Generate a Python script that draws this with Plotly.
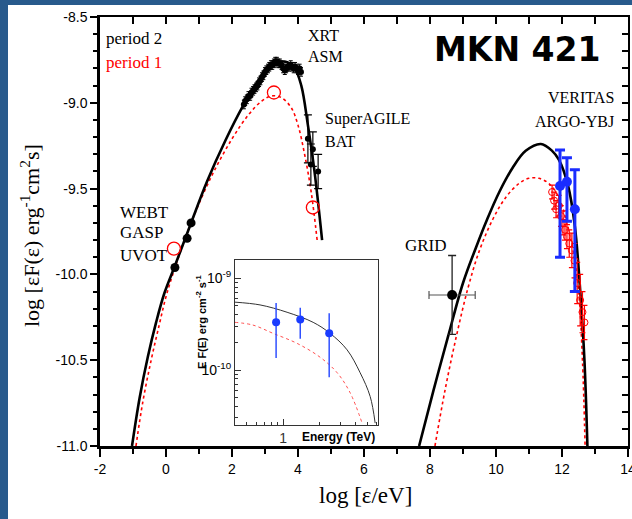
import plotly.graph_objects as go

# ---------------- data ----------------
# model curves
sync_p2_x = [-1.03, -0.8, -0.55, -0.3, -0.05, 0.27, 0.76, 1.24, 1.8, 2.33, 2.8, 3.2, 3.6, 3.9, 4.1, 4.3, 4.5, 4.73]
sync_p2_y = [-11.0, -10.72, -10.48, -10.28, -10.11, -9.95, -9.70, -9.46, -9.22, -9.02, -8.87, -8.79, -8.76, -8.8, -8.9, -9.13, -9.4, -9.8]
sync_p1_x = [-0.91, -0.7, -0.45, -0.2, 0.0, 0.24, 0.8, 1.4, 2.0, 2.5, 2.9, 3.2, 3.5, 3.8, 4.0, 4.2, 4.4, 4.58]
sync_p1_y = [-11.0, -10.74, -10.5, -10.29, -10.13, -9.98, -9.68, -9.42, -9.21, -9.07, -8.99, -8.96, -8.97, -9.03, -9.13, -9.3, -9.52, -9.8]
ic_p2_x = [7.67, 8.1, 8.55, 9.0, 9.4, 9.73, 10.1, 10.5, 10.9, 11.36, 11.7, 11.9, 12.18, 12.39, 12.55, 12.68, 12.77]
ic_p2_y = [-11.0, -10.68, -10.36, -10.05, -9.84, -9.68, -9.52, -9.38, -9.28, -9.24, -9.28, -9.33, -9.48, -9.72, -10.09, -10.5, -11.0]
ic_p1_x = [8.15, 8.45, 8.8, 9.15, 9.5, 9.9, 10.3, 10.7, 11.0, 11.3, 11.6, 11.9, 12.15, 12.35, 12.5, 12.62, 12.7]
ic_p1_y = [-11.0, -10.68, -10.36, -10.08, -9.86, -9.68, -9.55, -9.47, -9.44, -9.44, -9.47, -9.55, -9.7, -9.88, -10.09, -10.5, -11.0]

# period 2 data (black)
webt_x = [0.27, 0.64, 0.76]
webt_y = [-9.96, -9.79, -9.70]
xrt_x = [2.36, 2.40, 2.45, 2.50, 2.55, 2.59, 2.64, 2.68, 2.73, 2.77, 2.82, 2.86, 2.91, 2.95, 3.00,
         3.04, 3.09, 3.13, 3.18, 3.22, 3.27, 3.31, 3.36, 3.40, 3.45, 3.50, 3.55, 3.60, 3.64, 3.68,
         3.73, 3.78, 3.82, 3.87, 3.91, 3.96, 4.00, 4.05, 4.09]
xrt_y = [-9.01, -8.99, -8.98, -8.96, -8.96, -8.94, -8.93, -8.92, -8.91, -8.90, -8.88, -8.87, -8.85, -8.84, -8.82,
         -8.81, -8.80, -8.79, -8.78, -8.78, -8.77, -8.76, -8.76, -8.77, -8.77, -8.78, -8.80, -8.81, -8.80, -8.79,
         -8.79, -8.78, -8.79, -8.80, -8.79, -8.80, -8.81, -8.80, -8.82]
bat_x = [4.30, 4.45, 4.39, 4.61]
bat_y = [-9.21, -9.27, -9.36, -9.40]
bat_err = [0.14, 0.10, 0.12, 0.10]
grid_x = [8.67]
grid_y = [-10.12]
grid_xerr = [0.7]
grid_yerr = [0.23]
veritas_x = [11.94, 12.15, 12.39]
veritas_y = [-9.485, -9.46, -9.62]
veritas_up = [0.21, 0.14, 0.23]
veritas_dn = [0.415, 0.23, 0.48]

# period 1 data (red)
p1_circ_x = [0.24, 3.27, 4.45]
p1_circ_y = [-9.85, -8.94, -9.61]
argo_x = [11.70, 11.76, 11.82, 11.90, 11.97, 12.03, 12.09, 12.15, 12.22, 12.30, 12.38, 12.46, 12.55, 12.62, 12.68]
argo_y = [-9.52, -9.57, -9.62, -9.60, -9.66, -9.70, -9.74, -9.78, -9.82, -9.86, -9.92, -10.05, -10.15, -10.22, -10.28]
argo_err = [0.04, 0.05, 0.05, 0.06, 0.06, 0.07, 0.06, 0.07, 0.08, 0.10, 0.10, 0.12, 0.15, 0.12, 0.10]

# inset (E F(E) vs Energy, TeV)
in_black_x = [0.398, 0.643, 1.08, 1.78, 2.46, 3.41, 4.38, 5.31, 5.84]
in_black_y = [10**-9.26, 10**-9.29, 10**-9.37, 10**-9.48, 10**-9.60, 10**-9.78, 10**-10.03, 10**-10.29, 10**-10.58]
in_red_x = [0.398, 0.562, 0.825, 1.31, 2.03, 2.82, 3.62, 4.55]
in_red_y = [10**-9.48, 10**-9.51, 10**-9.60, 10**-9.71, 10**-9.86, 10**-10.03, 10**-10.25, 10**-10.58]
in_pts_x = [0.875, 1.39, 2.42]
in_pts_y = [10**-9.48, 10**-9.45, 10**-9.60]
in_pts_hi = [10**-9.27, 10**-9.32, 10**-9.38]
in_pts_lo = [10**-9.87, 10**-9.66, 10**-10.08]

x_ticks = [-2, 0, 2, 4, 6, 8, 10, 12, 14]
y_ticks = [-11.0, -10.5, -10.0, -9.5, -9.0, -8.5]
in_x_minor = [0.4, 0.5, 0.6, 0.7, 0.8, 0.9, 2, 3, 4, 5, 6]
in_y_minor = [3e-11, 4e-11, 5e-11, 6e-11, 7e-11, 8e-11, 9e-11, 2e-10, 3e-10, 4e-10, 5e-10, 6e-10, 7e-10, 8e-10, 9e-10]

# ---------------- figure ----------------
W, H = 632, 519
L, R, T, B = 100, 4, 17, 73
PW, PH = W - L - R, H - T - B

def px(xp):
    return (xp - L) / PW

def py(yp):
    return (H - B - yp) / PH

SERIF = "Liberation Serif"
SANS = "Liberation Sans"

fig = go.Figure()

# curves
fig.add_trace(go.Scatter(x=sync_p1_x, y=sync_p1_y, mode="lines", line=dict(color="red", width=1.6, dash="dot", shape="spline")))
fig.add_trace(go.Scatter(x=ic_p1_x, y=ic_p1_y, mode="lines", line=dict(color="red", width=1.6, dash="dot", shape="spline")))
fig.add_trace(go.Scatter(x=sync_p2_x, y=sync_p2_y, mode="lines", line=dict(color="black", width=2.6, shape="spline")))
fig.add_trace(go.Scatter(x=ic_p2_x, y=ic_p2_y, mode="lines", line=dict(color="black", width=2.6, shape="spline")))

# red data
fig.add_trace(go.Scatter(x=argo_x, y=argo_y, mode="markers",
                         marker=dict(symbol="circle-open", size=7, color="red", line=dict(width=1)),
                         error_y=dict(type="data", array=argo_err, color="red", thickness=1.2, width=3)))
fig.add_trace(go.Scatter(x=p1_circ_x, y=p1_circ_y, mode="markers",
                         marker=dict(symbol="circle-open", size=13, color="red", line=dict(width=1.3))))

# black data
fig.add_trace(go.Scatter(x=xrt_x, y=xrt_y, mode="markers",
                         marker=dict(symbol="circle", size=6, color="black"),
                         error_y=dict(type="constant", value=0.025, color="black", thickness=1, width=2)))
fig.add_trace(go.Scatter(x=webt_x, y=webt_y, mode="markers", marker=dict(symbol="circle", size=9, color="black")))
fig.add_trace(go.Scatter(x=bat_x, y=bat_y, mode="markers", marker=dict(symbol="circle", size=6, color="black"),
                         error_y=dict(type="data", array=bat_err, color="black", thickness=1.2, width=4)))
fig.add_trace(go.Scatter(x=grid_x, y=grid_y, mode="markers", marker=dict(symbol="circle", size=10, color="black"),
                         error_y=dict(type="data", array=grid_yerr, color="#222", thickness=1.3, width=4),
                         error_x=dict(type="data", array=grid_xerr, color="#555", thickness=1.2, width=4)))
# blue VERITAS
fig.add_trace(go.Scatter(x=veritas_x, y=veritas_y, mode="markers", marker=dict(symbol="circle", size=10, color="#1a2cff"),
                         error_y=dict(type="data", symmetric=False, array=veritas_up, arrayminus=veritas_dn,
                                      color="#1a2cff", thickness=3, width=5)))

# dummy trace for mirrored axes
fig.add_trace(go.Scatter(x=[-2], y=[-11], xaxis="x2", yaxis="y2", mode="markers", marker=dict(opacity=0), hoverinfo="skip"))

# inset traces
fig.add_trace(go.Scatter(x=in_black_x, y=in_black_y, xaxis="x3", yaxis="y3", mode="lines",
                         line=dict(color="#333", width=1, shape="spline")))
fig.add_trace(go.Scatter(x=in_red_x, y=in_red_y, xaxis="x3", yaxis="y3", mode="lines",
                         line=dict(color="#ff5050", width=1, dash="dot", shape="spline")))
fig.add_trace(go.Scatter(x=in_pts_x, y=in_pts_y, xaxis="x3", yaxis="y3", mode="markers",
                         marker=dict(symbol="circle", size=8, color="#1a3cff"),
                         error_y=dict(type="data", symmetric=False,
                                      array=[h - v for h, v in zip(in_pts_hi, in_pts_y)],
                                      arrayminus=[v - l for v, l in zip(in_pts_y, in_pts_lo)],
                                      color="#3050ff", thickness=1.5, width=0)))

tickfont = dict(family=SANS, size=14, color="black")

fig.update_layout(
    width=W, height=H,
    margin=dict(l=L, r=R, t=T, b=B, pad=0, autoexpand=False),
    paper_bgcolor="white", plot_bgcolor="white",
    showlegend=False,
    xaxis=dict(range=[-2, 14], domain=[0, 1], tickvals=x_ticks, ticktext=[str(v) for v in x_ticks],
               ticks="outside", ticklen=8, tickwidth=2, tickcolor="black", ticklabeloverflow="allow", automargin=False,
               minor=dict(dtick=1, tick0=-2, ticks="outside", ticklen=5, tickwidth=2, tickcolor="black"),
               showline=True, linewidth=2.5, linecolor="black", showgrid=False, zeroline=False,
               tickfont=tickfont, fixedrange=True),
    yaxis=dict(range=[-11, -8.5], domain=[0, 1], tickvals=y_ticks, ticktext=["%.1f" % v for v in y_ticks],
               ticks="outside", ticklen=7, tickwidth=2, tickcolor="black", ticklabeloverflow="allow", automargin=False,
               minor=dict(dtick=0.1, tick0=-11, ticks="outside", ticklen=4, tickwidth=2, tickcolor="black"),
               showline=True, linewidth=2.5, linecolor="black", showgrid=False, zeroline=False,
               tickfont=tickfont, fixedrange=True),
    xaxis2=dict(range=[-2, 14], overlaying="x", side="top", anchor="y", tickvals=list(range(-2, 15)),
                showticklabels=False, ticks="inside", ticklen=7, tickwidth=2, tickcolor="black", automargin=False,
                showline=True, linewidth=2, linecolor="black", showgrid=False, zeroline=False),
    yaxis2=dict(range=[-11, -8.5], overlaying="y", side="right", anchor="x",
                tickvals=[-11 + 0.1 * i for i in range(26)], automargin=False,
                showticklabels=False, ticks="inside", ticklen=6, tickwidth=2, tickcolor="black",
                showline=True, linewidth=2, linecolor="black", showgrid=False, zeroline=False),
    xaxis3=dict(type="log", range=[-0.40, 0.79], domain=[px(235), px(378)], anchor="y3", automargin=False,
                tickvals=[1], ticktext=["1"], ticks="inside", ticklen=6, tickwidth=1, tickcolor="#333",
                minor=dict(tickmode="array", tickvals=in_x_minor, ticks="inside", ticklen=3, tickwidth=1, tickcolor="#333"),
                showline=True, mirror=True, linewidth=1, linecolor="#333", showgrid=False, zeroline=False,
                tickfont=dict(family=SANS, size=14, color="#333")),
    yaxis3=dict(type="log", range=[-10.60, -8.80], domain=[py(425), py(260)], anchor="x3", automargin=False,
                tickvals=[1e-10, 1e-9], ticktext=["10<sup>-10</sup>", "10<sup>-9</sup>"],
                ticks="inside", ticklen=6, tickwidth=1, tickcolor="#333",
                minor=dict(tickmode="array", tickvals=in_y_minor, ticks="inside", ticklen=3, tickwidth=1, tickcolor="#333"),
                showline=True, mirror=True, linewidth=1, linecolor="#333", showgrid=False, zeroline=False,
                tickfont=dict(family=SANS, size=14, color="black"), ticklabelstandoff=0),
)

# blue slide background strips
fig.add_shape(type="rect", xref="paper", yref="paper", x0=px(0), x1=px(8), y0=py(H), y1=py(0),
              fillcolor="#285a8c", line=dict(width=0), layer="above")
fig.add_shape(type="rect", xref="paper", yref="paper", x0=px(0), x1=px(W), y0=py(5), y1=py(0),
              fillcolor="#285a8c", line=dict(width=0), layer="above")

def ann(text, x, y, size=17, color="black", family=SERIF, xanchor="center", bold=False, angle=0):
    if bold:
        text = "<b>" + text + "</b>"
    fig.add_annotation(text=text, x=px(x), y=py(y), xref="paper", yref="paper", showarrow=False,
                       xanchor=xanchor, yanchor="middle", textangle=angle,
                       font=dict(family=family, size=size, color=color))

ann("log [εF(ε) erg<sup>-1</sup>cm<sup>2</sup>s]", 30, 236, size=22, angle=-90)
ann("log [ε/eV]", 365, 495, size=23)
ann("period 2", 104, 38, size=17, xanchor="left")
ann("period 1", 104, 62, size=17, color="red", xanchor="left")
ann("XRT", 323, 35, size=16)
ann("ASM", 325, 57, size=16)
ann("MKN 421", 517, 49, size=33, family="DejaVu Sans", bold=True)
ann("SuperAGILE", 323, 119, size=16, xanchor="left")
ann("BAT", 323, 141, size=16, xanchor="left")
ann("VERITAS", 616, 97, size=16, xanchor="right")
ann("ARGO-YBJ", 616, 121, size=16, xanchor="right")
ann("WEBT", 118, 212, size=17, xanchor="left")
ann("GASP", 118, 232, size=17, xanchor="left")
ann("UVOT", 118, 255, size=17, xanchor="left")
ann("GRID", 403, 245, size=17, xanchor="left")
ann("Energy (TeV)", 338, 437, size=12, family=SANS, bold=True)
ann("E F(E) erg cm<sup>-2</sup> s<sup>-1</sup>", 201, 322, size=11, family=SANS, bold=True, angle=-90)

fig.write_html("out.html")
